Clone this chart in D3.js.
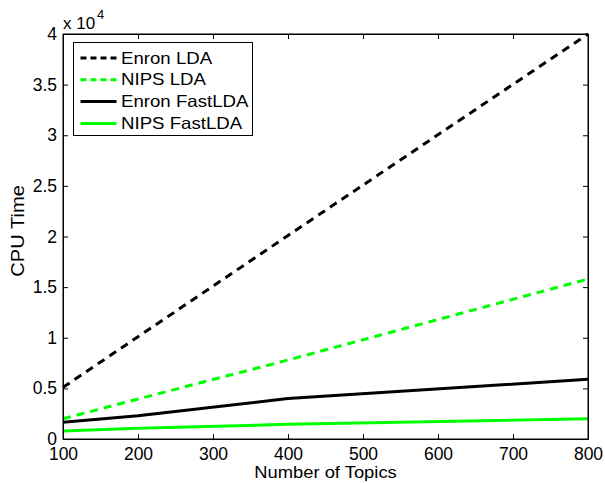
<!DOCTYPE html>
<html>
<head>
<meta charset="utf-8">
<script src="https://cdn.jsdelivr.net/npm/d3@7"></script>
<style>
  body { margin: 0; background: #fff; }
  text { font-family: "Liberation Sans", Arial, sans-serif; fill: #000; }
</style>
</head>
<body>
<svg id="svg" width="605" height="483"></svg>
<script>
const topics = [100, 200, 400, 800]
const enronLDA = [5100, 10100, 20100, 40000]
const nipsLDA = [2000, 3950, 7800, 15800]
const enronFast = [1650, 2300, 4000, 5900]
const nipsFast = [800, 1050, 1450, 2000]
const xTicks = [100, 200, 300, 400, 500, 600, 700, 800]
const yTicks = [0, 5000, 10000, 15000, 20000, 25000, 30000, 35000, 40000]

const series = [
  { name: 'Enron LDA', values: enronLDA, color: '#000', dash: '8,6', legDash: '6,4' },
  { name: 'NIPS LDA', values: nipsLDA, color: '#00ff00', dash: '8,6', legDash: '6,4' },
  { name: 'Enron FastLDA', values: enronFast, color: '#000', dash: null, legDash: null },
  { name: 'NIPS FastLDA', values: nipsFast, color: '#00ff00', dash: null, legDash: null }
]

const pLeft = 63, pRight = 588, pTop = 34, pBottom = 439
const svg = d3.select('#svg')

const x = d3.scaleLinear().domain([100, 800]).range([pLeft, pRight])
const y = d3.scaleLinear().domain([0, 40000]).range([pBottom, pTop])

// lines first, axes frame drawn over them
const line = d3.line().x((d, i) => x(topics[i])).y(d => y(d))
svg.selectAll('.series')
  .data(series)
  .enter()
  .append('path')
  .attr('d', d => line(d.values))
  .attr('fill', 'none')
  .attr('stroke', d => d.color)
  .attr('stroke-width', 3)
  .attr('stroke-dasharray', d => d.dash)

const fmt = v => d3.format('~g')(v / 10000)

// matlab-style axes: ticks inward on all four sides
svg.append('g').attr('transform', `translate(0,${pBottom})`)
  .call(d3.axisBottom(x).tickValues(xTicks).tickSizeInner(-5).tickSizeOuter(0).tickPadding(9))
svg.append('g').attr('transform', `translate(0,${pTop})`)
  .call(d3.axisTop(x).tickValues(xTicks).tickSizeInner(-5).tickSizeOuter(0).tickFormat(''))
svg.append('g').attr('transform', `translate(${pLeft},0)`)
  .call(d3.axisLeft(y).tickValues(yTicks).tickSizeInner(-5).tickSizeOuter(0).tickPadding(6).tickFormat(fmt))
svg.append('g').attr('transform', `translate(${pRight},0)`)
  .call(d3.axisRight(y).tickValues(yTicks).tickSizeInner(-5).tickSizeOuter(0).tickFormat(''))

svg.selectAll('.domain').attr('stroke', '#000')
svg.selectAll('.tick line').attr('stroke', '#000')
svg.selectAll('.tick text').attr('font-size', 17.5).attr('fill', '#000')
  .style('font-family', '"Liberation Sans", Arial, sans-serif')

svg.append('rect')
  .attr('x', pLeft).attr('y', pTop)
  .attr('width', pRight - pLeft).attr('height', pBottom - pTop)
  .attr('fill', 'none').attr('stroke', '#000').attr('stroke-width', 1)

// exponent label
svg.append('text').attr('x', pLeft).attr('y', 29).attr('font-size', 17).text('x 10')
svg.append('text').attr('x', pLeft + 34).attr('y', 19).attr('font-size', 13).text('4')

// axis titles (source font renders a bit wider, hence the scale)
svg.append('text').attr('transform', `translate(${(pLeft + pRight) / 2},478) scale(1.08,1)`)
  .attr('text-anchor', 'middle').attr('font-size', 17).text('Number of Topics')
svg.append('text').attr('transform', `translate(24,231) rotate(-90) scale(1.15,1)`)
  .attr('text-anchor', 'middle').attr('font-size', 17.5).text('CPU Time')

// legend
const lg = svg.append('g').attr('transform', 'translate(73.5,42.5)')
lg.append('rect').attr('width', 179).attr('height', 93)
  .attr('fill', '#fff').attr('stroke', '#000').attr('stroke-width', 1)
const items = lg.selectAll('.item')
  .data(series)
  .enter()
  .append('g')
  .attr('transform', (d, i) => `translate(0,${15.5 + i * 21.8})`)
items.append('line')
  .attr('x1', 7).attr('x2', 43).attr('y1', 0).attr('y2', 0)
  .attr('stroke', d => d.color).attr('stroke-width', 3)
  .attr('stroke-dasharray', d => d.legDash)
items.append('text').attr('transform', 'translate(47.5,5.5) scale(1.13,1)')
  .attr('font-size', 16.5).text(d => d.name)
</script>
</body>
</html>
